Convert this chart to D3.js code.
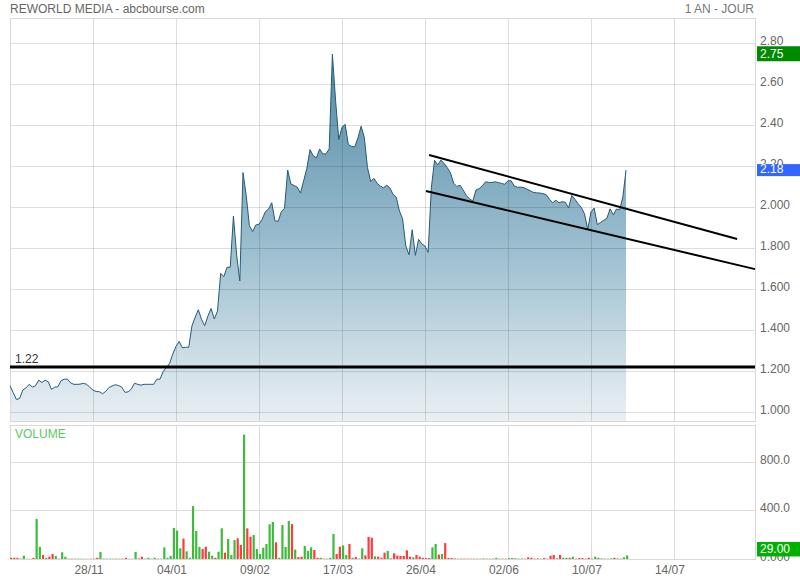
<!DOCTYPE html>
<html>
<head>
<meta charset="utf-8">
<script src="https://cdn.jsdelivr.net/npm/d3@7"></script>
<style>
  html, body { margin: 0; padding: 0; background: #fff; }
  svg { display: block; font-family: "Liberation Sans", Arial, sans-serif; }
</style>
</head>
<body>
<svg id="chart" width="800" height="580"></svg>
<script>
// ---------- DATA ----------
const title = "REWORLD MEDIA - abcbourse.com";
const period = "1 AN - JOUR";

const dateTickIndex = [26, 52, 78, 104, 130, 156, 182, 208];
const dateTickLabels = ["28/11", "04/01", "09/02", "17/03", "26/04", "02/06", "10/07", "14/07"];

const priceTicks = [1.0, 1.2, 1.4, 1.6, 1.8, 2.0, 2.2, 2.4, 2.6, 2.8];
const priceTickLabels = ["1.000", "1.200", "1.400", "1.600", "1.800", "2.000", "2.20", "2.40", "2.60", "2.80"];

const volumeTicks = [0, 400, 800];
const volumeTickLabels = ["0.000", "400.0", "800.0"];

const prices = [1.128,1.095,1.061,1.066,1.107,1.118,1.135,1.122,1.128,1.155,
1.144,1.155,1.147,1.110,1.121,1.123,1.153,1.160,1.160,1.142,
1.135,1.135,1.136,1.140,1.135,1.121,1.107,1.100,1.099,1.089,
1.101,1.119,1.127,1.133,1.129,1.122,1.096,1.098,1.112,1.140,
1.135,1.131,1.135,1.135,1.135,1.135,1.160,1.160,1.198,1.218,
1.237,1.283,1.320,1.344,1.313,1.316,1.316,1.420,1.462,1.499,
1.452,1.421,1.468,1.505,1.454,1.492,1.676,1.661,1.706,1.706,
1.956,1.766,1.639,2.168,2.056,1.909,1.880,1.912,1.916,1.940,
1.977,1.990,2.021,1.933,1.930,1.977,1.994,2.180,2.112,2.105,
2.097,2.068,2.128,2.189,2.280,2.250,2.240,2.283,2.259,2.259,
2.284,2.745,2.520,2.329,2.389,2.403,2.304,2.296,2.293,2.337,
2.394,2.340,2.192,2.124,2.140,2.116,2.102,2.094,2.106,2.094,
2.062,2.048,1.981,1.942,1.810,1.767,1.889,1.764,1.842,1.820,
1.810,1.779,2.093,2.228,2.205,2.229,2.213,2.192,2.166,2.116,
2.100,2.106,2.082,2.055,2.040,2.029,2.083,2.090,2.104,2.123,
2.120,2.120,2.123,2.119,2.115,2.111,2.128,2.128,2.102,2.096,
2.097,2.094,2.087,2.079,2.071,2.069,2.068,2.065,2.060,2.038,
2.021,2.033,2.021,2.026,2.023,1.995,2.056,2.037,2.016,1.998,
1.966,1.891,1.976,1.995,1.914,1.924,1.935,1.945,1.991,1.962,
1.990,1.987,2.049,2.180];

const volumes = [10,10,10,3,27,2,2,10,329,99,
33,10,19,41,25,3,55,19,3,3,
3,3,3,2,2,2,3,10,57,3,
3,3,3,3,3,3,10,2,2,57,
5,19,3,10,3,10,3,3,96,10,
25,255,233,88,167,63,10,435,230,99,
82,101,60,27,10,60,252,52,164,33,
156,170,115,1021,252,183,197,82,41,93,
123,285,304,137,10,279,99,312,287,77,
16,19,107,66,96,74,10,10,3,3,
10,205,41,101,112,33,123,10,16,3,
88,30,181,175,22,19,10,52,66,5,
47,27,25,25,71,19,14,33,19,10,
8,8,96,123,36,41,131,8,8,5,
3,3,3,3,3,3,3,3,5,3,
3,3,10,3,3,3,8,8,5,3,
5,3,14,10,3,5,3,8,3,27,
33,5,33,10,10,10,19,3,8,8,
3,10,3,19,10,5,3,3,5,10,
5,3,14,29];

// u = up day (green), d = down day (red)
const volumeDirection = ("ddduuudduu" + "dudduduudd" + "uuududddud" + "uuududdudu" +
  "dduuuuduuu" + "uuuuduuuuu" + "dduuduuduu" + "uddudduuuu" + "uuuduuuudu" +
  "dduuuddudu" + "uudduududd" + "udddudddud" + "dddddduded" + "dduududddd" +
  "udddduduud" + "udududuudu" + "uddddduddd" + "duduududdd" + "dduuuuduud" + "uduu").split("");

const supportLevel = 1.22;
const supportLabel = "1.22";
// trend channel lines: [dayIndex, price]
const upperTrend = [[131.3, 2.254], [227.8, 1.844]];
const lowerTrend = [[130.3, 2.078], [233.4, 1.697]];

const maxPrice = 2.75;
const lastPrice = 2.18;
const lastVolume = 29;

// ---------- LAYOUT ----------
const svg = d3.select("#chart");
const L = 10, R = 755;
const pTop = 18, pBottom = 421;
const vTop = 425, vBottom = 559;
const gridColor = "rgba(0,0,0,0.13)";
const textColor = "#666";

const x = d3.scaleLinear().domain([0, 233.4]).range([L, R]);
const y = d3.scaleLinear().domain([1.0, 2.8]).range([412, 43]);
const yv = d3.scaleLinear().domain([0, 800]).range([vBottom, 461.6]);

// gradient
const defs = svg.append("defs");
const grad = defs.append("linearGradient").attr("id", "fillGrad")
  .attr("gradientUnits", "userSpaceOnUse")
  .attr("x1", 0).attr("x2", 0).attr("y1", 43).attr("y2", pBottom);
grad.append("stop").attr("offset", "0%").attr("stop-color", "#4e86a2");
grad.append("stop").attr("offset", "55%").attr("stop-color", "#9dbfd0");
grad.append("stop").attr("offset", "100%").attr("stop-color", "#eaf0f4");

// title
svg.append("text").attr("x", 10).attr("y", 13).attr("font-size", 12)
  .attr("fill", textColor).text(title);
svg.append("text").attr("x", 754).attr("y", 13).attr("font-size", 12)
  .attr("text-anchor", "end").attr("fill", "#777").text(period);

// ---------- PRICE PANEL ----------
const area = d3.area()
  .x((d, i) => x(i)).y0(pBottom).y1(d => y(d));
const line = d3.line().x((d, i) => x(i)).y(d => y(d));

svg.append("path").datum(prices).attr("d", area).attr("fill", "url(#fillGrad)");

// grid price
const gP = svg.append("g");
gP.selectAll("line.h").data(priceTicks).join("line")
  .attr("x1", L).attr("x2", R).attr("y1", d => Math.round(y(d)) + 0.5).attr("y2", d => Math.round(y(d)) + 0.5)
  .attr("stroke", gridColor);
gP.selectAll("line.v").data(dateTickIndex).join("line")
  .attr("x1", d => Math.round(x(d)) + 0.5).attr("x2", d => Math.round(x(d)) + 0.5)
  .attr("y1", pTop).attr("y2", pBottom).attr("stroke", gridColor);
// frame
svg.append("rect").attr("x", L + 0.5).attr("y", pTop + 0.5).attr("width", R - L).attr("height", pBottom - pTop)
  .attr("fill", "none").attr("stroke", "#d8d8d8");

svg.append("path").datum(prices).attr("d", line).attr("fill", "none")
  .attr("stroke", "#265a76").attr("stroke-width", 1);

// support line
svg.append("line").attr("x1", L).attr("x2", R)
  .attr("y1", y(supportLevel)).attr("y2", y(supportLevel))
  .attr("stroke", "#000").attr("stroke-width", 3);
svg.append("text").attr("x", 15).attr("y", y(supportLevel) - 4).attr("font-size", 12)
  .attr("fill", "#333").text(supportLabel);

// trend lines
const tl = d3.line().x(d => x(d[0])).y(d => y(d[1]));
[upperTrend, lowerTrend].forEach(t => {
  svg.append("path").datum(t).attr("d", tl).attr("stroke", "#000").attr("stroke-width", 2).attr("fill", "none");
});

// price axis labels
svg.selectAll("text.pl").data(priceTicks).join("text")
  .attr("x", 760).attr("y", d => y(d) + 2).attr("font-size", 12).attr("fill", textColor)
  .text((d, i) => priceTickLabels[i]);

// badges
function badge(yc, h, color, label, yOff) {
  svg.append("rect").attr("x", 757).attr("y", yc - yOff).attr("width", 43).attr("height", h).attr("fill", color);
  svg.append("text").attr("x", 760).attr("y", yc - yOff + h - 3).attr("font-size", 12)
    .attr("fill", "#fff").text(label);
}
badge(y(maxPrice), 15, "#008a00", maxPrice.toFixed(2), 7);
badge(y(lastPrice), 12, "#3366ff", lastPrice.toFixed(2), 6);

// ---------- VOLUME PANEL ----------
const gV = svg.append("g");
gV.selectAll("line.h").data(volumeTicks.slice(1)).join("line")
  .attr("x1", L).attr("x2", R).attr("y1", d => Math.round(yv(d)) + 0.5).attr("y2", d => Math.round(yv(d)) + 0.5)
  .attr("stroke", "#ddd");
gV.selectAll("line.v").data(dateTickIndex).join("line")
  .attr("x1", d => Math.round(x(d)) + 0.5).attr("x2", d => Math.round(x(d)) + 0.5)
  .attr("y1", vTop).attr("y2", vBottom).attr("stroke", "#ddd");
svg.append("rect").attr("x", L + 0.5).attr("y", vTop + 0.5).attr("width", R - L).attr("height", vBottom - vTop)
  .attr("fill", "none").attr("stroke", "#d8d8d8");

svg.selectAll("rect.vb").data(volumes).join("rect")
  .attr("x", (d, i) => x(i)).attr("width", 2.2)
  .attr("y", d => yv(d)).attr("height", d => vBottom - yv(d))
  .attr("fill", (d, i) => volumeDirection[i] === "u" ? "#3dbb3d" : "#ff3b3b");

svg.append("text").attr("x", 15).attr("y", 438).attr("font-size", 12).attr("fill", "#5cc95c").text("VOLUME");

svg.selectAll("text.vl").data(volumeTicks).join("text")
  .attr("x", 760).attr("y", d => yv(d) + 2).attr("font-size", 12).attr("fill", textColor)
  .text((d, i) => volumeTickLabels[i]);

// volume badge
svg.append("rect").attr("x", 757).attr("y", yv(lastVolume) - 13.5).attr("width", 43).attr("height", 14.5).attr("fill", "#00b000");
svg.append("text").attr("x", 760).attr("y", yv(lastVolume) - 2).attr("font-size", 12).attr("fill", "#fff")
  .text(lastVolume.toFixed(2));

// date labels
svg.selectAll("text.dl").data(dateTickIndex).join("text")
  .attr("x", d => x(d) - 4).attr("y", 574).attr("font-size", 12).attr("fill", textColor)
  .attr("text-anchor", "middle").text((d, i) => dateTickLabels[i]);
</script>
</body>
</html>
